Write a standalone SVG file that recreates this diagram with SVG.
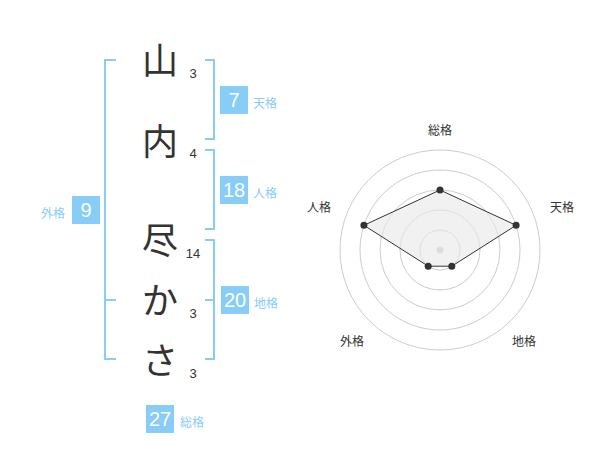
<svg xmlns="http://www.w3.org/2000/svg" width="600" height="470" viewBox="0 0 600 470">
<style>
.ch{font-family:"Noto Sans CJK JP","Noto Sans",sans-serif;font-size:36px;fill:#333;text-anchor:middle}
.sc{font-family:"Liberation Sans",Arial,sans-serif;font-size:13px;fill:#333;text-anchor:middle}
.br{fill:none;stroke:#88ccf8;stroke-width:2}
.box{fill:#88ccf8}
.bn{font-family:"Liberation Sans",Arial,sans-serif;font-size:20px;fill:#fff;text-anchor:middle}
.bl{font-family:"Noto Sans CJK JP",sans-serif;font-size:12px;fill:#88ccf8}
.rg{fill:none;stroke:#ccc;stroke-width:1}
.rl{font-family:"Noto Sans CJK JP",sans-serif;font-size:12px;fill:#333;text-anchor:middle}
.pt{fill:#333}
</style>
<rect width="600" height="470" fill="#fff"/>
<g id="name">
<g id="c1"><text class="ch" x="160" y="74">山</text><text class="sc" x="193" y="78">3</text></g>
<g id="c2"><text class="ch" x="160" y="155">内</text><text class="sc" x="193" y="158">4</text></g>
<g id="c3"><text class="ch" x="160" y="254">尽</text><text class="sc" x="193" y="258">14</text></g>
<g id="c4"><text class="ch" x="160" y="314">か</text><text class="sc" x="193" y="318">3</text></g>
<g id="c5"><text class="ch" x="160" y="374">さ</text><text class="sc" x="193" y="378">3</text></g>
</g>
<g id="brackets">
<path class="br" d="M116,60 H105 V359 H116 M105,300 H116"/>
<path class="br" d="M205,60 H214 V139 H205"/>
<path class="br" d="M205,150 H214 V229 H205"/>
<path class="br" d="M205,240 H214 V359 H205 M205,300 H214"/>
</g>
<g id="tenkaku"><rect class="box" x="220" y="86" width="28" height="28"/><text class="bn" x="234" y="107">7</text><text class="bl" x="253" y="108">天格</text></g>
<g id="jinkaku"><rect class="box" x="220" y="176" width="28" height="28"/><text class="bn" x="234" y="197">18</text><text class="bl" x="253" y="198">人格</text></g>
<g id="chikaku"><rect class="box" x="221" y="286" width="28" height="28"/><text class="bn" x="235" y="307">20</text><text class="bl" x="254" y="308">地格</text></g>
<g id="gaikaku"><rect class="box" x="72" y="196" width="28" height="28"/><text class="bn" x="86" y="217">9</text><text class="bl" x="41" y="218">外格</text></g>
<g id="soukaku"><rect class="box" x="146" y="405" width="28" height="28"/><text class="bn" x="160" y="426">27</text><text class="bl" x="180" y="427">総格</text></g>
<g id="radar">
<circle class="rg" cx="440" cy="250" r="20"/>
<circle class="rg" cx="440" cy="250" r="40"/>
<circle class="rg" cx="440" cy="250" r="60"/>
<circle class="rg" cx="440" cy="250" r="80"/>
<circle class="rg" cx="440" cy="250" r="100"/>
<circle cx="440" cy="250" r="3.5" fill="#ccc"/>
<polygon points="440,190 516.1,225.3 451.8,266.2 428.2,266.2 363.9,225.3" fill="#e8e8e8" fill-opacity="0.6" stroke="#333" stroke-width="1"/>
<circle class="pt" cx="440" cy="190" r="3.5"/>
<circle class="pt" cx="516.1" cy="225.3" r="3.5"/>
<circle class="pt" cx="451.8" cy="266.2" r="3.5"/>
<circle class="pt" cx="428.2" cy="266.2" r="3.5"/>
<circle class="pt" cx="363.9" cy="225.3" r="3.5"/>
<text class="rl" x="440" y="135">総格</text>
<text class="rl" x="562" y="212">天格</text>
<text class="rl" x="319" y="212">人格</text>
<text class="rl" x="352" y="346">外格</text>
<text class="rl" x="524" y="346">地格</text>
</g>
</svg>
